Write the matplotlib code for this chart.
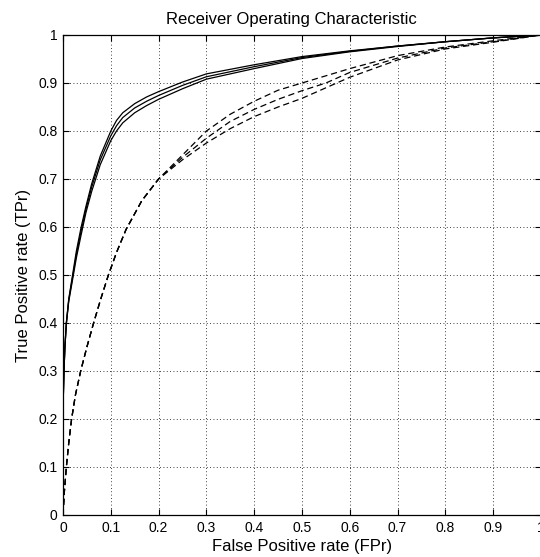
import matplotlib
matplotlib.use("Agg")
import matplotlib.pyplot as plt

# ---- data ----
solid_fpr = [0, 0, 0.002, 0.004, 0.007, 0.012, 0.02, 0.028, 0.038, 0.048, 0.06, 0.078, 0.1,
             0.112, 0.125, 0.15, 0.175, 0.2, 0.25, 0.3, 0.4, 0.5, 0.6, 0.7, 0.8, 0.9, 1.0]
solid1_tpr = [0, 0.22, 0.3, 0.35, 0.4, 0.45, 0.5, 0.55, 0.6, 0.643, 0.69, 0.748, 0.8,
              0.822, 0.838, 0.857, 0.871, 0.882, 0.902, 0.919, 0.938, 0.955, 0.967, 0.977, 0.986, 0.994, 1.0]
solid2_tpr = [0, 0.22, 0.3, 0.35, 0.4, 0.448, 0.495, 0.543, 0.592, 0.637, 0.683, 0.74, 0.79,
              0.811, 0.828, 0.848, 0.862, 0.874, 0.895, 0.913, 0.934, 0.953, 0.966, 0.977, 0.986, 0.994, 1.0]
solid3_tpr = [0, 0.22, 0.3, 0.35, 0.398, 0.445, 0.49, 0.536, 0.584, 0.63, 0.674, 0.73, 0.78,
              0.8, 0.817, 0.838, 0.853, 0.866, 0.888, 0.908, 0.93, 0.951, 0.965, 0.976, 0.986, 0.994, 1.0]

dashed_fpr = [0, 0.003, 0.007, 0.012, 0.018, 0.026, 0.037, 0.05, 0.064, 0.079, 0.095, 0.112,
              0.132, 0.165, 0.2, 0.25, 0.3, 0.35, 0.4, 0.45, 0.5, 0.55, 0.6, 0.7, 0.8, 0.9, 1.0]
dashed1_tpr = [0, 0.05, 0.1, 0.15, 0.2, 0.25, 0.3, 0.35, 0.4, 0.45, 0.5, 0.547,
               0.595, 0.655, 0.7, 0.75, 0.8, 0.835, 0.862, 0.885, 0.9, 0.915, 0.93, 0.957, 0.975, 0.988, 1.0]
dashed2_tpr = [0, 0.05, 0.1, 0.15, 0.2, 0.25, 0.3, 0.35, 0.4, 0.45, 0.5, 0.547,
               0.595, 0.655, 0.7, 0.745, 0.785, 0.82, 0.845, 0.866, 0.884, 0.9, 0.922, 0.952, 0.973, 0.986, 1.0]
dashed3_tpr = [0, 0.05, 0.1, 0.15, 0.2, 0.25, 0.3, 0.35, 0.4, 0.45, 0.5, 0.547,
               0.595, 0.655, 0.7, 0.74, 0.775, 0.805, 0.83, 0.85, 0.868, 0.89, 0.912, 0.948, 0.971, 0.985, 1.0]

ticks = [0, 0.1, 0.2, 0.3, 0.4, 0.5, 0.6, 0.7, 0.8, 0.9, 1.0]
tick_labels = ['0', '0.1', '0.2', '0.3', '0.4', '0.5', '0.6', '0.7', '0.8', '0.9', '1']

title = "Receiver Operating Characteristic"
xlabel = "False Positive rate (FPr)"
ylabel = "True Positive rate (TPr)"

# ---- figure ----
plt.rcParams['font.family'] = ['Liberation Sans', 'DejaVu Sans']
W, H = 540, 557
fig = plt.figure(figsize=(W / 100, H / 100), dpi=100)
x0, x1, y0, y1 = 63, 541, 35, 515
ax = fig.add_axes([x0 / W, 1 - y1 / H, (x1 - x0) / W, (y1 - y0) / H])

for t in (solid1_tpr, solid2_tpr, solid3_tpr):
    ax.plot(solid_fpr, t, color='black', lw=0.9, solid_joinstyle='round')
for t in (dashed1_tpr, dashed2_tpr, dashed3_tpr):
    ax.plot(dashed_fpr, t, color='black', lw=0.9, dashes=(5, 3))

ax.set_xlim(0, 1)
ax.set_ylim(0, 1)
ax.set_xticks(ticks)
ax.set_xticklabels(tick_labels)
ax.set_yticks(ticks)
ax.set_yticklabels(tick_labels)
ax.tick_params(direction='in', length=4, width=0.8, top=True, right=True,
               labelsize=10, pad=4)
ax.grid(True, color='black', lw=0.6, linestyle=(0, (1, 3)))
for s in ax.spines.values():
    s.set_linewidth(0.9)

ax.set_title(title, fontsize=12, x=(291 - x0) / (x1 - x0), pad=8)
ax.set_xlabel(xlabel, fontsize=12, labelpad=3)
ax.set_ylabel(ylabel, fontsize=12, labelpad=5)

fig.savefig("out.png", dpi=100)
